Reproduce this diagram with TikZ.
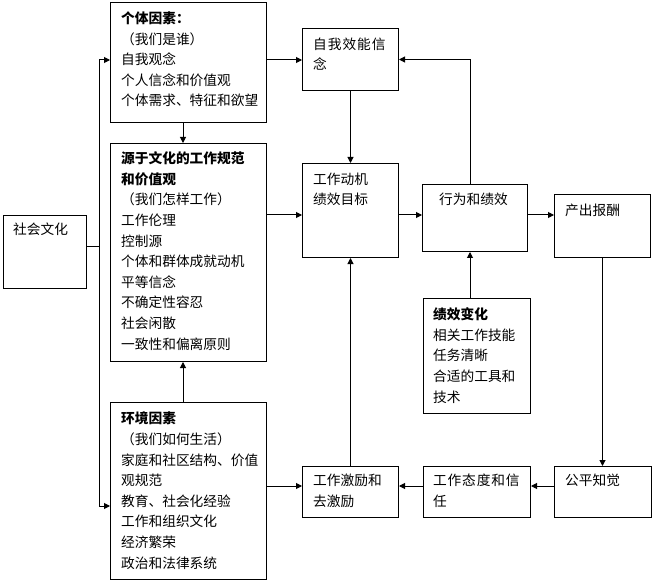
\documentclass[tikz,border=0pt]{standalone}
\usepackage{fontspec}
\setmainfont{Noto Sans CJK SC}
\usetikzlibrary{arrows.meta}
\begin{document}
\begin{tikzpicture}[x=1pt,y=-1pt,
  box/.style={draw, line width=1pt, anchor=north west, inner sep=0pt},
  txt/.style={anchor=base west, align=left, inner sep=0pt, font=\fontsize{13.7pt}{20.6pt}\selectfont},
  arr/.style={line width=1pt, -{Triangle[length=6pt,width=6pt]}},
  ln/.style={line width=1pt}]
\useasboundingbox (0,0) rectangle (654,583);
% boxes
\node[box, minimum width=83pt,  minimum height=73pt]  (b0)  at (3,215) {};
\node[box, minimum width=156pt, minimum height=120pt] (b1)  at (110,2) {};
\node[box, minimum width=156pt, minimum height=218pt] (b2)  at (110,143) {};
\node[box, minimum width=156pt, minimum height=177pt] (b3)  at (110,402) {};
\node[box, minimum width=96pt,  minimum height=62pt]  (b4)  at (302,28) {};
\node[box, minimum width=96pt,  minimum height=94pt]  (b5)  at (302,163) {};
\node[box, minimum width=105pt, minimum height=67pt]  (b6)  at (422,184) {};
\node[box, minimum width=96pt,  minimum height=63pt]  (b7)  at (554,194) {};
\node[box, minimum width=107pt, minimum height=115pt] (b8)  at (423,298) {};
\node[box, minimum width=96pt,  minimum height=51pt]  (b9)  at (302,466) {};
\node[box, minimum width=107pt, minimum height=51pt]  (b10) at (423,466) {};
\node[box, minimum width=97pt,  minimum height=51pt]  (b11) at (554,466) {};
% texts (anchor = baseline of the last line)
\node[txt] (t0) at (13,235) {社会文化};
\node[txt] (t1) at (121,106) {\textbf{个体因素：}\\（我们是谁）\\自我观念\\个人信念和价值观\\个体需求、特征和欲望};
\node[txt] (t2) at (121,349) {\textbf{源于文化的工作规范}\\\textbf{和价值观}\\（我们怎样工作）\\工作伦理\\控制源\\个体和群体成就动机\\平等信念\\不确定性容忍\\社会闲散\\一致性和偏离原则};
\node[txt] (t3) at (121,568) {\textbf{环境因素}\\（我们如何生活）\\家庭和社区结构、价值\\观规范\\教育、社会化经验\\工作和组织文化\\经济繁荣\\政治和法律系统};
\node[txt] (t4) at (313,70) {\addfontfeature{LetterSpace=7}自我效能信\\\addfontfeature{LetterSpace=7}念};
\node[txt] (t5) at (313,205) {工作动机\\绩效目标};
\node[txt] (t6) at (439,205) {行为和绩效};
\node[txt] (t7) at (565,216) {产出报酬};
\node[txt] (t8) at (433,402) {\textbf{绩效变化}\\相关工作技能\\任务清晰\\合适的工具和\\技术};
\node[txt] (t9) at (313,506) {工作激励和\\去激励};
\node[txt] (t10) at (433,506) {\addfontfeature{LetterSpace=6}工作态度和信\\任};
\node[txt] (t11) at (565,485) {公平知觉};
% connectors
\coordinate (j)  at (99,247);
\coordinate (jt) at (99,60);
\coordinate (jb) at (99,506);
\coordinate (c1) at (183,0);
\coordinate (c2) at (470,0);
\coordinate (r1) at (0,60);
\coordinate (r2) at (0,215);
\coordinate (r3) at (0,486);
\draw[ln] (b0.east |- j) -- (j);
\draw[ln] (jt) -- (jb);
\draw[arr] (jt) -- (b1.west |- jt);
\draw[arr] (jb) -- (b3.west |- jb);
\draw[arr] (b1.south -| c1) -- (b2.north -| c1);
\draw[arr] (b3.north -| c1) -- (b2.south -| c1);
\draw[arr] (b1.east |- r1) -- (b4.west |- r1);
\draw[arr] (b2.east |- r2) -- (b5.west |- r2);
\draw[arr] (b5.east |- r2) -- (b6.west |- r2);
\draw[arr] (b6.east |- r2) -- (b7.west |- r2);
\draw[arr] (b4.south) -- (b5.north);
\draw[arr] (b6.north -| c2) |- (b4.east);
\draw[arr] (b8.north -| c2) -- (b6.south -| c2);
\draw[arr] (b9.north) -- (b5.south);
\draw[arr] (b7.south) -- (b7.south |- b11.north);
\draw[arr] (b11.west |- r3) -- (b10.east |- r3);
\draw[arr] (b10.west |- r3) -- (b9.east |- r3);
\draw[arr] (b3.east |- r3) -- (b9.west |- r3);
\end{tikzpicture}
\end{document}
